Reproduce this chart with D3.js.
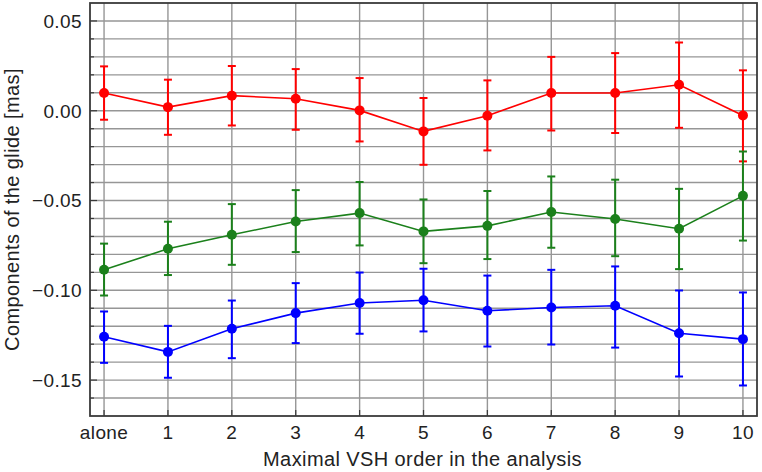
<!DOCTYPE html>
<html>
<head>
<meta charset="utf-8">
<script src="https://cdn.jsdelivr.net/npm/d3@7"></script>
<style>
  body { margin: 0; background: #fff; }
  svg { display: block; font-family: "Liberation Sans", Arial, sans-serif; }
</style>
</head>
<body>
<div id="chart"></div>
<script>
// x categories (maximal VSH order)
const labels = ["alone", "1", "2", "3", "4", "5", "6", "7", "8", "9", "10"];

// red component
const redVal = [0.0099, 0.0020, 0.0084, 0.0067, 0.0002, -0.0115, -0.0028, 0.0099, 0.0099, 0.0145, -0.0026];
const redLo  = [-0.0050, -0.0134, -0.0082, -0.0106, -0.0171, -0.0301, -0.0221, -0.0110, -0.0124, -0.0095, -0.0282];
const redHi  = [0.0247, 0.0173, 0.0249, 0.0232, 0.0182, 0.0071, 0.0169, 0.0300, 0.0321, 0.0380, 0.0225];

// green component
const greenVal = [-0.0886, -0.0769, -0.0691, -0.0617, -0.0570, -0.0672, -0.0641, -0.0564, -0.0603, -0.0657, -0.0474];
const greenLo  = [-0.1029, -0.0915, -0.0858, -0.0787, -0.0750, -0.0849, -0.0826, -0.0763, -0.0810, -0.0882, -0.0723];
const greenHi  = [-0.0740, -0.0618, -0.0520, -0.0442, -0.0397, -0.0494, -0.0447, -0.0366, -0.0384, -0.0435, -0.0227];

// blue component
const blueVal = [-0.1259, -0.1343, -0.1214, -0.1127, -0.1071, -0.1055, -0.1114, -0.1096, -0.1086, -0.1239, -0.1272];
const blueLo  = [-0.1404, -0.1487, -0.1378, -0.1294, -0.1242, -0.1229, -0.1313, -0.1302, -0.1319, -0.1480, -0.1530];
const blueHi  = [-0.1118, -0.1198, -0.1057, -0.0960, -0.0901, -0.0880, -0.0918, -0.0886, -0.0867, -0.1001, -0.1012];

const yTicks = [0.05, 0.00, -0.05, -0.10, -0.15];

const width = 762, height = 472;
const margin = { top: 3, right: 5, bottom: 56, left: 90 };

const svg = d3.select("#chart").append("svg")
    .attr("width", width)
    .attr("height", height);

const x = d3.scaleLinear().domain([-0.22, 10.22]).range([margin.left, width - margin.right]);
const y = d3.scaleLinear().domain([-0.17, 0.06]).range([height - margin.bottom, margin.top]);

const gridColor = "#969696";
const frameColor = "#3a3a3a";

// grid
const grid = svg.append("g");
grid.selectAll("line.h")
    .data(d3.range(-16, 6).map(d => d / 100))
    .enter().append("line")
    .attr("x1", x.range()[0]).attr("x2", x.range()[1])
    .attr("y1", d => y(d)).attr("y2", d => y(d))
    .attr("stroke", gridColor).attr("stroke-width", 1.4);
grid.selectAll("line.v")
    .data(d3.range(0, 11))
    .enter().append("line")
    .attr("x1", d => x(d)).attr("x2", d => x(d))
    .attr("y1", y.range()[0]).attr("y2", y.range()[1])
    .attr("stroke", gridColor).attr("stroke-width", 1.4);

// inner ticks
const ticks = svg.append("g").attr("stroke", frameColor).attr("stroke-width", 1.2);
ticks.selectAll("line.yt")
    .data(d3.range(-16, 6))
    .enter().append("line")
    .attr("x1", x.range()[0])
    .attr("x2", d => x.range()[0] + (d % 5 === 0 ? 7 : 4))
    .attr("y1", d => y(d / 100)).attr("y2", d => y(d / 100));
ticks.selectAll("line.xt")
    .data(d3.range(0, 11))
    .enter().append("line")
    .attr("x1", d => x(d)).attr("x2", d => x(d))
    .attr("y1", y.range()[0]).attr("y2", y.range()[0] - 6);

// frame
svg.append("rect")
    .attr("x", x.range()[0]).attr("y", y.range()[1])
    .attr("width", x.range()[1] - x.range()[0])
    .attr("height", y.range()[0] - y.range()[1])
    .attr("fill", "none")
    .attr("stroke", frameColor)
    .attr("stroke-width", 1.8);

// tick labels
const fmt = d3.format(".2f");
svg.append("g").selectAll("text")
    .data(yTicks)
    .enter().append("text")
    .attr("x", x.range()[0] - 8)
    .attr("y", d => y(d))
    .attr("dy", "0.36em")
    .attr("text-anchor", "end")
    .attr("font-size", 19)
    .attr("letter-spacing", 0.4)
    .attr("fill", "#222")
    .text(d => fmt(d));

svg.append("g").selectAll("text")
    .data(labels)
    .enter().append("text")
    .attr("x", (d, i) => x(i))
    .attr("y", 439)
    .attr("text-anchor", "middle")
    .attr("font-size", 19)
    .attr("letter-spacing", 0.4)
    .attr("fill", "#222")
    .text(d => d);

// axis titles
svg.append("text")
    .attr("x", (x.range()[0] + x.range()[1]) / 2 - 1)
    .attr("y", 466)
    .attr("text-anchor", "middle")
    .attr("font-size", 20)
    .attr("letter-spacing", 0.4)
    .attr("fill", "#222")
    .text("Maximal VSH order in the analysis");

svg.append("text")
    .attr("transform", `translate(19,${(y.range()[0] + y.range()[1]) / 2}) rotate(-90)`)
    .attr("text-anchor", "middle")
    .attr("font-size", 20)
    .attr("letter-spacing", 0.4)
    .attr("fill", "#222")
    .text("Components of the glide [mas]");

// series
const series = [
    { color: "#ff0000", val: redVal, lo: redLo, hi: redHi },
    { color: "#1b801b", val: greenVal, lo: greenLo, hi: greenHi },
    { color: "#0000ff", val: blueVal, lo: blueLo, hi: blueHi }
];

const line = d3.line().x((d, i) => x(i)).y(d => y(d));

series.forEach(s => {
    const g = svg.append("g");
    const pts = s.val.map((v, i) => ({ i: i, v: v, lo: s.lo[i], hi: s.hi[i] }));

    g.append("path")
        .datum(s.val)
        .attr("d", line)
        .attr("fill", "none")
        .attr("stroke", s.color)
        .attr("stroke-width", 1.6);

    const eb = g.selectAll("g.eb").data(pts).enter().append("g")
        .attr("stroke", s.color).attr("stroke-width", 2);
    eb.append("line")
        .attr("x1", d => x(d.i)).attr("x2", d => x(d.i))
        .attr("y1", d => y(d.lo)).attr("y2", d => y(d.hi));
    eb.append("line")
        .attr("x1", d => x(d.i) - 4).attr("x2", d => x(d.i) + 4)
        .attr("y1", d => y(d.lo)).attr("y2", d => y(d.lo));
    eb.append("line")
        .attr("x1", d => x(d.i) - 4).attr("x2", d => x(d.i) + 4)
        .attr("y1", d => y(d.hi)).attr("y2", d => y(d.hi));

    g.selectAll("circle").data(pts).enter().append("circle")
        .attr("cx", d => x(d.i))
        .attr("cy", d => y(d.v))
        .attr("r", 5)
        .attr("fill", s.color);
});
</script>
</body>
</html>
